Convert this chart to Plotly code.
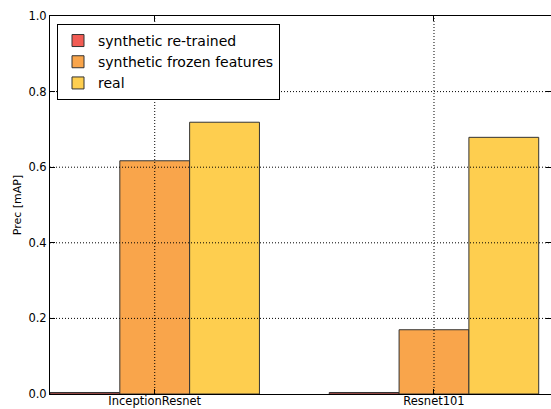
import plotly.graph_objects as go

models = ["InceptionResnet", "Resnet101"]
series_names = ["synthetic re-trained", "synthetic frozen features", "real"]
retrained = [0.004, 0.004]
frozen = [0.617, 0.170]
real = [0.719, 0.679]
colors = ["#F25C54", "#F9A54B", "#FECE4F"]
y_ticks = [0.0, 0.2, 0.4, 0.6, 0.8, 1.0]

fig = go.Figure()
for name, vals, col in zip(series_names, [retrained, frozen, real], colors):
    fig.add_trace(go.Bar(
        x=models, y=vals, name=name,
        marker=dict(color=col, line=dict(color="#333333", width=1)),
    ))

# dotted grid drawn on top of the bars
grid_line = dict(color="black", width=1, dash="1px,2px")
shapes = []
for m in models:
    shapes.append(dict(type="line", xref="x", yref="paper", x0=m, x1=m, y0=0, y1=1,
                       line=grid_line, layer="above"))
for t in y_ticks[1:-1]:
    shapes.append(dict(type="line", xref="paper", yref="y", x0=0, x1=1, y0=t, y1=t,
                       line=grid_line, layer="above"))

fig.update_layout(
    width=551, height=409,
    margin=dict(l=50, r=0, t=16, b=15),
    paper_bgcolor="white", plot_bgcolor="white",
    barmode="group", bargap=0.25, bargroupgap=0,
    font=dict(family="DejaVu Sans", size=11.5, color="black"),
    shapes=shapes,
    showlegend=True,
    legend=dict(x=0.014, y=0.979, xanchor="left", yanchor="top",
                bgcolor="white", bordercolor="black", borderwidth=1,
                font=dict(size=14), tracegroupgap=0),
    xaxis=dict(range=[-0.375, 1.419], showgrid=False, zeroline=False, automargin=False,
               showline=True, linecolor="black", linewidth=1, mirror="ticks",
               ticks="inside", ticklen=5, tickcolor="black", layer="above traces",
               ticklabelstandoff=-4),
    yaxis=dict(range=[0, 1.0], tickvals=y_ticks, tickformat=".1f", automargin=False,
               showgrid=False, zeroline=False,
               showline=True, linecolor="black", linewidth=1, mirror="ticks",
               ticks="inside", ticklen=5, tickcolor="black", layer="above traces",
               title=dict(text="Prec [mAP]", font=dict(size=11), standoff=4)),
)

fig.write_html("out.html")
